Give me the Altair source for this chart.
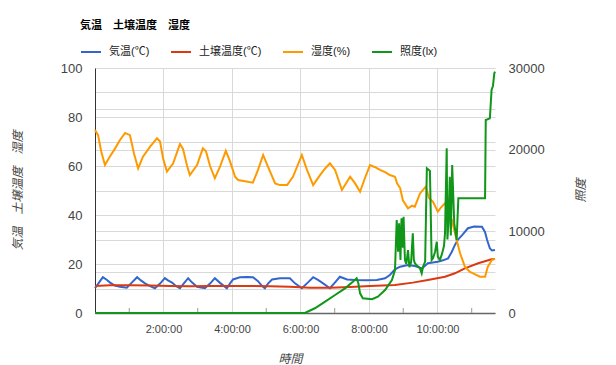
import altair as alt
import pandas as pd

SERIES = ["気温(℃)", "土壌温度(℃)", "湿度(%)", "照度(lx)"]
COLORS = ["#3366CC", "#DC3912", "#FF9900", "#109618"]

temp_hours = [0, 0.12, 0.23, 0.35, 0.44, 0.58, 0.73, 0.93, 1.08, 1.23, 1.34, 1.46, 1.61, 1.75, 1.90,
              2.04, 2.13, 2.25, 2.36, 2.48, 2.60, 2.72, 2.83, 2.98, 3.21, 3.36, 3.50, 3.65, 3.85, 3.94,
              4.03, 4.23, 4.44, 4.61, 4.76, 4.88, 4.96, 5.05, 5.17, 5.40, 5.69, 5.84, 6.04, 6.22, 6.37,
              6.51, 6.63, 6.86, 7.01, 7.15, 7.36, 7.59, 7.88, 8.23, 8.47, 8.61, 8.76, 8.91, 9.14, 9.34,
              9.55, 9.72, 10.01, 10.16, 10.31, 10.42, 10.51, 10.60, 10.72, 10.89, 11.07, 11.30, 11.39,
              11.45, 11.53, 11.59, 11.68]
temp_values = [10.1, 12.5, 14.6, 13.5, 12.4, 11.2, 10.7, 10.3, 12.5, 14.6, 13.3, 12.1, 11.0, 10.1, 12.0,
               14.2, 13.3, 12.4, 11.0, 10.1, 12.2, 14.2, 12.5, 10.7, 10.1, 12.0, 14.2, 12.3, 10.1, 12.0,
               13.7, 14.6, 14.7, 14.6, 13.0, 11.0, 10.1, 12.0, 13.7, 14.2, 14.2, 12.1, 10.1, 12.5, 14.6,
               13.5, 12.4, 10.1, 12.5, 14.8, 13.7, 13.5, 13.4, 13.5, 14.2, 15.5, 17.8, 18.9, 19.6, 19.2,
               18.2, 20.3, 20.9, 21.5, 22.3, 25.0, 27.8, 30.0, 31.8, 34.6, 35.3, 35.2, 33.0,
               29.8, 26.4, 25.5, 25.7]

soil_hours = [0, 0.44, 1.02, 1.61, 2.19, 2.77, 3.36, 3.94, 4.53, 5.11, 5.69, 6.28, 6.86, 7.45, 8.03,
              8.76, 9.28, 9.72, 10.22, 10.51, 10.80, 11.19, 11.58, 11.68]
soil_values = [11.0, 11.3, 11.3, 11.2, 11.0, 10.9, 11.0, 11.0, 11.0, 10.9, 10.7, 10.3, 10.3, 10.6, 11.0,
               11.4, 12.4, 13.5, 14.8, 16.2, 18.2, 20.3, 21.9, 22.0]

hum_hours = [0, 0.09, 0.18, 0.29, 0.44, 0.58, 0.73, 0.88, 1.02, 1.14, 1.26, 1.40, 1.61, 1.81, 1.90,
             1.99, 2.10, 2.28, 2.48, 2.57, 2.69, 2.77, 2.98, 3.15, 3.24, 3.36, 3.50, 3.65, 3.82, 3.94,
             4.09, 4.18, 4.38, 4.61, 4.76, 4.91, 5.05, 5.26, 5.40, 5.61, 5.78, 6.04, 6.19, 6.37, 6.57,
             6.72, 6.86, 7.01, 7.21, 7.45, 7.59, 7.74, 7.88, 8.03, 8.18, 8.32, 8.47, 8.61, 8.76, 8.82,
             8.91, 8.99, 9.14, 9.26, 9.34, 9.49, 9.66, 9.75, 9.87, 10.01, 10.10, 10.22, 10.31, 10.42,
             10.51, 10.66, 10.80, 10.95, 11.04, 11.24, 11.39, 11.47, 11.59, 11.68]
hum_values = [74.7, 72.6, 66, 60.4, 64, 67, 70.6, 73.5, 72.6, 65, 59, 63.8, 67.9, 71.3, 70,
              63, 57.7, 61, 69, 67, 60, 56.3, 60.4, 67.2, 66, 60, 55, 59.7, 66.2, 62,
              55.6, 54.3, 53.8, 53.2, 58.4, 64.5, 59.7, 52.9, 52.2, 52.2, 55.6, 64.5, 58.4, 52.2, 56.3,
              59, 61.1, 58.4, 50.2, 55.6, 53, 49.5, 55, 60.4, 59.5, 58.4, 57.5, 56.3, 55.6, 52.9,
              51, 46, 42.7, 43.8, 43.4, 48.8, 51.6, 47, 45.4, 41.4, 43, 44.8, 41, 38,
              32.6, 24.4, 18.9, 16.8, 16.2, 14.8, 14.8, 18.9, 21.6, 22.2]

light_hours = [0, 6.13, 6.42, 6.72, 7.01, 7.30, 7.53, 7.64, 7.69, 7.74, 7.82, 8.09, 8.26, 8.47, 8.67,
               8.76, 8.81, 8.85, 8.88, 8.92, 8.95, 8.99, 9.01, 9.05, 9.09, 9.14, 9.18, 9.23, 9.28, 9.31,
               9.34, 9.40, 9.46, 9.49, 9.54, 9.58, 9.64, 9.69, 9.75, 9.78, 9.83, 9.87, 9.93, 9.98, 10.01,
               10.07, 10.13, 10.19, 10.22, 10.27, 10.29, 10.32, 10.36, 10.39, 10.43, 10.49, 10.56, 10.61,
               11.39, 11.41, 11.53, 11.58, 11.62, 11.66, 11.68]
light_values = [0, 0, 580, 1390, 2200, 3020, 3830, 4250, 3640, 2410, 1800, 1680, 2000, 2820, 4040,
                5270, 11390, 7500, 11000, 6500, 11600, 8000, 11790, 6490, 6000, 7710, 5600, 6200, 9760, 6500,
                6090, 5800, 5600, 5470, 4860, 5700, 6300, 17720, 17510, 17400, 6490, 6700, 7500, 8730, 6900,
                6500, 7200, 8200, 9760, 20170, 9000, 11000, 16690, 9500, 18120, 10980, 8940, 14040,
                14040, 23630, 23840, 27310, 27800, 29350, 29550]

minor_tick_hours = [1, 3, 5, 7, 9, 11]

TITLE = "気温　土壌温度　湿度"
FONT = "Liberation Sans, Arial, Noto Sans CJK JP, sans-serif"
GRID = "#d9d9d9"
LABEL = "#444444"


def frame(hours, values, name):
    return pd.DataFrame({"hours": hours, "value": values, "series": name})


temp_df = frame(temp_hours, temp_values, SERIES[0])
soil_df = frame(soil_hours, soil_values, SERIES[1])
hum_df = frame(hum_hours, hum_values, SERIES[2])
light_df = frame(light_hours, light_values, SERIES[3])
tick_df = pd.DataFrame({"hours": minor_tick_hours})

x_enc = alt.X(
    "hours:Q",
    scale=alt.Scale(domain=[0, 11.68], nice=False, zero=False),
    axis=alt.Axis(
        values=list(range(1, 12)),
        labelExpr="datum.value % 2 == 0 ? datum.value + ':00:00' : ''",
        grid=True,
        gridColor=GRID,
        gridOpacity=alt.condition("datum.value % 2 == 0", alt.value(1), alt.value(0)),
        ticks=False,
        domainColor="#666666",
        domainWidth=1.5,
        labelColor=LABEL,
        labelFontSize=11,
        labelPadding=10,
        labelFlush=False,
        title="時間",
        titleFontStyle="italic",
        titleFontWeight="normal",
        titleFontSize=12,
        titleColor=LABEL,
        titleX=195,
        titleY=45,
        titleAlign="center",
        titleBaseline="middle",
    ),
)

color_enc = alt.Color(
    "series:N",
    scale=alt.Scale(domain=SERIES, range=COLORS),
    title=None,
    legend=alt.Legend(
        orient="none",
        legendX=-15,
        legendY=-27,
        direction="horizontal",
        symbolType="stroke",
        symbolSize=400,
        symbolStrokeWidth=2,
        labelFontSize=11,
        labelColor="#222222",
        labelOffset=7,
        columnPadding=17,
        padding=0,
    ),
)

y_left = alt.Y(
    "value:Q",
    scale=alt.Scale(domain=[0, 100], nice=False),
    axis=alt.Axis(
        values=list(range(0, 101, 10)),
        labelExpr="datum.value % 20 == 0 ? datum.label : ''",
        grid=True,
        gridColor=GRID,
        ticks=False,
        domainColor="#333333",
        labelPadding=13,
        labelFontSize=13,
        labelColor=LABEL,
        title=TITLE,
        titleAngle=270,
        titleX=-78,
        titleY=122,
        titleAlign="center",
        titleBaseline="middle",
        titleFontStyle="italic",
        titleFontWeight="normal",
        titleFontSize=12,
        titleColor=LABEL,
    ),
)

y_right = alt.Y(
    "value:Q",
    scale=alt.Scale(domain=[0, 30000], nice=False),
    axis=alt.Axis(
        orient="right",
        values=list(range(0, 30001, 5000)),
        labelExpr="datum.value % 10000 == 0 ? datum.label : ''",
        format="d",
        grid=True,
        gridColor=GRID,
        ticks=False,
        domain=False,
        labelPadding=13,
        labelFontSize=13,
        labelColor=LABEL,
        title="照度",
        titleAngle=270,
        titleX=85,
        titleY=122,
        titleAlign="center",
        titleBaseline="middle",
        titleFontStyle="italic",
        titleFontWeight="normal",
        titleFontSize=12,
        titleColor=LABEL,
    ),
)


def line(df, y):
    return alt.Chart(df).mark_line(strokeWidth=2).encode(x=x_enc, y=y, color=color_enc)


minor_ticks = alt.Chart(tick_df).mark_rule(color="#999999").encode(
    x=x_enc, y=alt.value(240), y2=alt.value(245)
)

left = alt.layer(minor_ticks, line(temp_df, y_left), line(soil_df, y_left), line(hum_df, y_left))
right = line(light_df, y_right)

chart = (
    alt.layer(left, right)
    .resolve_scale(y="independent")
    .properties(
        width=400,
        height=245,
        autosize=alt.AutoSizeParams(type="none"),
        padding={"left": 95, "top": 68, "right": 121, "bottom": 52},
        title=alt.TitleParams(
            TITLE,
            anchor="start",
            frame="group",
            fontSize=11,
            fontWeight="bold",
            color="#000000",
            dx=-15,
            dy=-6,
        ),
    )
    .configure(font=FONT)
    .configure_view(stroke=None)
)

chart.save("out.html", embed_options={"renderer": "svg", "actions": False})
